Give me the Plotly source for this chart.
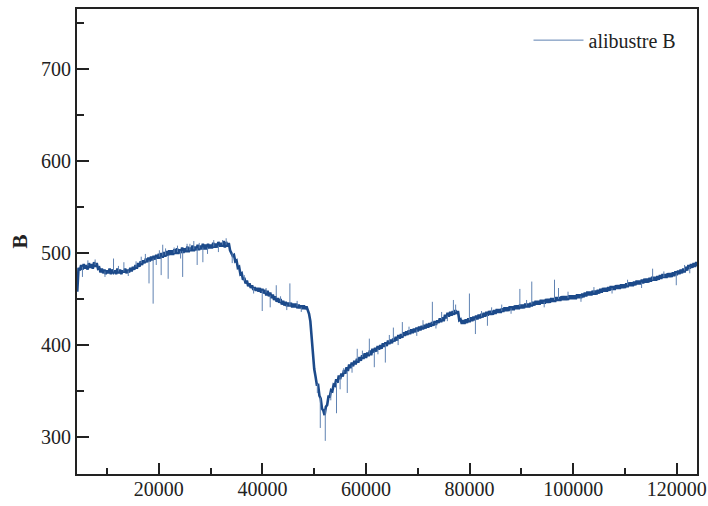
import plotly.graph_objects as go

x_start = 4250
x_step = 250
b_values = [
    458, 484, 481, 487, 482, 488, 483, 487, 482, 489, 484, 488, 483, 490, 485, 489, 483, 484, 479, 483,
    478, 482, 477, 481, 478, 483, 477, 482, 479, 481, 477, 483, 478, 482, 477, 481, 479, 483, 478, 482,
    479, 484, 480, 485, 482, 487, 483, 489, 485, 491, 487, 492, 489, 494, 490, 495, 491, 496, 492, 497,
    493, 498, 494, 499, 494, 500, 495, 501, 496, 502, 497, 503, 498, 503, 498, 504, 499, 505, 499, 504,
    500, 506, 500, 505, 501, 507, 501, 506, 502, 508, 502, 507, 503, 509, 503, 508, 504, 510, 504, 509,
    504, 510, 505, 509, 505, 511, 506, 510, 506, 512, 507, 511, 507, 513, 506, 512, 507, 511, 503, 500,
    497, 498, 491, 492, 484, 485, 477, 478, 471, 473, 467, 470, 464, 467, 462, 465, 460, 463, 459, 462,
    458, 462, 457, 461, 456, 460, 454, 459, 453, 457, 451, 455, 449, 453, 447, 451, 446, 450, 444, 448,
    443, 447, 442, 446, 442, 446, 441, 445, 441, 445, 440, 444, 440, 443, 439, 443, 439, 442, 438, 434,
    426, 406, 394, 374, 366, 357, 357, 345, 342, 331, 329, 324, 333, 335, 344, 344, 351, 350, 357, 356,
    363, 359, 367, 363, 369, 366, 373, 369, 376, 372, 379, 375, 381, 377, 383, 379, 385, 381, 387, 383,
    389, 385, 391, 386, 392, 388, 394, 389, 396, 392, 397, 393, 399, 395, 400, 396, 402, 398, 403, 399,
    405, 401, 406, 402, 407, 404, 409, 405, 411, 407, 412, 408, 414, 410, 415, 411, 416, 412, 417, 413,
    418, 414, 419, 415, 420, 416, 421, 417, 422, 418, 423, 419, 424, 420, 425, 421, 426, 422, 427, 424,
    429, 425, 430, 426, 433, 429, 435, 431, 436, 432, 437, 433, 438, 434, 437, 427, 428, 423, 427, 423,
    428, 424, 429, 425, 430, 426, 431, 427, 432, 428, 433, 429, 434, 430, 435, 431, 436, 432, 437, 433,
    437, 433, 438, 434, 439, 435, 439, 435, 440, 436, 441, 437, 441, 437, 442, 438, 442, 438, 443, 439,
    443, 439, 444, 440, 444, 440, 445, 441, 445, 441, 446, 442, 447, 443, 448, 444, 448, 444, 449, 445,
    449, 445, 450, 446, 450, 446, 451, 447, 451, 447, 452, 448, 452, 448, 453, 449, 453, 449, 453, 449,
    454, 450, 454, 450, 454, 450, 455, 451, 455, 451, 456, 452, 457, 453, 458, 454, 458, 454, 459, 455,
    459, 455, 460, 456, 461, 457, 462, 458, 462, 458, 463, 459, 464, 460, 464, 460, 465, 461, 465, 461,
    466, 462, 466, 462, 467, 463, 468, 464, 468, 464, 469, 465, 470, 466, 470, 466, 471, 467, 472, 468,
    472, 468, 473, 469, 474, 470, 474, 470, 475, 471, 476, 472, 477, 473, 477, 473, 478, 474, 478, 474,
    479, 475, 480, 476, 481, 477, 482, 478, 483, 479, 485, 481, 487, 483, 488, 484, 489, 485, 490, 486,
    490,
]
x_values = [x_start + i * x_step for i in range(len(b_values))]

# Outlier spikes: position, spike tip value, local level at that position
spike_x = [5250, 11250, 13250, 18100, 18900, 20450, 20750, 21800, 22950, 24600,
           25450, 26750, 27400, 28500, 32300, 34170, 39960, 41500, 42670, 45300,
           51170, 52135, 54300, 55000, 56380, 58300, 60640, 61600, 63730, 65280,
           67010, 72810, 76870, 79960, 81120, 83440, 84250, 89700, 92000, 96390,
           97160, 115330, 119900,
           6300, 7700, 9600, 12200, 14100, 15600, 16600, 17400, 19500, 20100,
           21300, 23600, 24200, 26000, 27800, 29400, 30600, 31500, 33000, 36500,
           38300, 40700, 43500, 44700, 46700, 47500, 50600, 53200, 55700, 57300,
           59300, 62300, 64500, 66200, 68300, 69800, 71000, 73500, 74600, 75700,
           77300, 82300, 86200, 88000, 91000, 94400, 99000, 101500, 104000, 107500,
           110500, 113200, 117500, 121500, 122500]
spike_tip = [474, 494, 490, 467, 445, 476, 509, 472, 506, 474,
             510, 513, 487, 490, 514, 489, 437, 441, 465, 467,
             310, 296, 326, 352, 348, 396, 407, 376, 381, 419,
             425, 447, 449, 456, 412, 421, 441, 461, 469, 471,
             462, 483, 465,
             492, 493, 474, 486, 475, 491, 496, 499, 487, 503,
             505, 508, 494, 510, 511, 499, 514, 501, 516, 476,
             456, 462, 453, 438, 448, 436, 348, 340, 375, 370,
             394, 390, 411, 400, 420, 410, 427, 418, 436, 426,
             444, 437, 444, 434, 449, 441, 458, 447, 463, 456,
             471, 462, 480, 487, 478]
spike_base = [485, 480, 480, 492, 494, 496, 497, 498, 500, 502,
              503, 504, 505, 506, 509, 500, 459, 454, 451, 443,
              343, 330, 360, 366, 372, 383, 390, 393, 401, 405,
              410, 423, 435, 427, 429, 433, 435, 442, 444, 449,
              450, 471, 478,
              486, 487, 480, 480, 481, 485, 489, 491, 495, 496,
              498, 501, 502, 503, 505, 506, 507, 508, 509, 470,
              462, 457, 447, 444, 442, 441, 358, 349, 370, 378,
              387, 396, 403, 408, 413, 417, 420, 424, 428, 432,
              436, 431, 437, 440, 443, 447, 451, 453, 457, 462,
              465, 468, 474, 481, 485]

series_name = "alibustre B"
x_tickvals = [20000, 40000, 60000, 80000, 100000, 120000]
x_ticktext = ["20000", "40000", "60000", "80000", "100000", "120000"]
y_tickvals = [300, 400, 500, 600, 700]
y_ticktext = ["300", "400", "500", "600", "700"]

font_family = "Liberation Serif, Times New Roman, serif"
line_color = "#1c4a8a"

sx, sy = [], []
for xv, tv, bv in zip(spike_x, spike_tip, spike_base):
    sx += [xv, xv, None]
    sy += [bv, tv, None]

fig = go.Figure()
fig.add_trace(go.Scatter(
    x=x_values, y=b_values, mode="lines", name=series_name, legendgroup="b",
    showlegend=False, line=dict(color=line_color, width=2.6),
))
fig.add_trace(go.Scatter(
    x=sx, y=sy, mode="lines", name=series_name, showlegend=True,
    legendgroup="b", line=dict(color="#5f82b2", width=1), connectgaps=False,
))

axis_common = dict(
    showline=True, linecolor="#222", linewidth=2, mirror=True,
    ticks="inside", tickcolor="#222", tickwidth=2,
    showgrid=False, zeroline=False, automargin=False,
    tickfont=dict(family=font_family, size=20, color="#222"),
)

fig.update_xaxes(
    range=[4200, 123900], tickvals=x_tickvals, ticktext=x_ticktext, ticklen=11,
    ticklabelstandoff=-4,
    minor=dict(ticks="inside", ticklen=6, tickwidth=2, tickcolor="#222", dtick=10000, tick0=0),
    **axis_common,
)
fig.update_yaxes(
    range=[260, 765], tickvals=y_tickvals, ticktext=y_ticktext, ticklen=12,
    minor=dict(ticks="inside", ticklen=7, tickwidth=2, tickcolor="#222", dtick=50, tick0=0),
    title=dict(text="<b>B</b>", font=dict(family=font_family, size=21, color="#222"), standoff=8),
    **axis_common,
)

fig.update_layout(
    width=708, height=506,
    margin=dict(l=77, r=11, t=9, b=32),
    paper_bgcolor="white", plot_bgcolor="white",
    showlegend=True,
    legend=dict(x=0.975, y=0.975, xanchor="right", yanchor="top",
                bgcolor="rgba(0,0,0,0)", itemwidth=50,
                font=dict(family=font_family, size=20, color="#222")),
)

fig.write_html(
    "out.html",
    config={"displayModeBar": False},
    post_script="document.body.style.margin='0';document.body.style.overflow='hidden';",
)
